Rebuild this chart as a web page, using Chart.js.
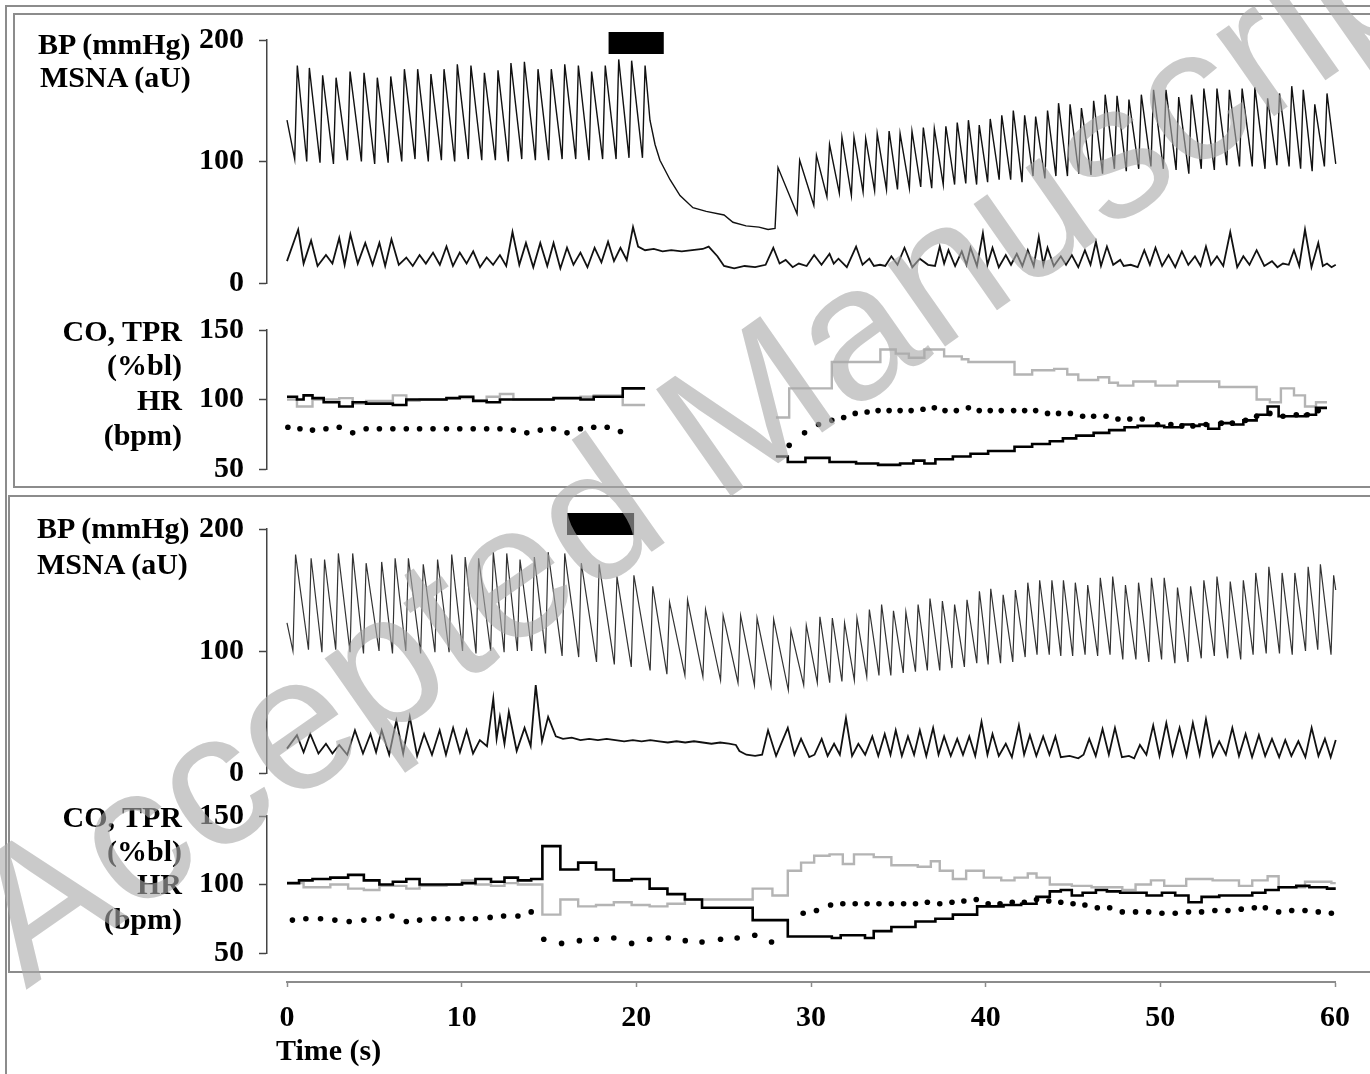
<!DOCTYPE html>
<html>
<head>
<meta charset="utf-8">
<script src="https://cdn.jsdelivr.net/npm/chart.js@4.4.1/dist/chart.umd.min.js"></script>
<style>
  html, body { margin: 0; padding: 0; background: #fff; }
  body { width: 1370px; height: 1074px; position: relative; overflow: hidden; font-family: "Liberation Serif", "Times New Roman", serif; }
  .frame { position: absolute; border: 2px solid #8c8c8c; box-sizing: border-box; }
  .plot { position: absolute; left: 0; width: 1370px; }
  .lbl { position: absolute; font-weight: bold; font-size: 30px; line-height: 30px; white-space: nowrap; color: #000; }
  .r { left: 0; width: 182px; text-align: right; }
  #wm { position: absolute; left: 26px; top: 829px; font-family: "Liberation Sans", Arial, sans-serif; font-size: 190px; line-height: 190px;
        color: rgba(170,170,170,0.62); white-space: nowrap; transform-origin: 0 161px; transform: rotate(-35deg); pointer-events: none; }
</style>
</head>
<body>

<div class="frame" style="left:5px;top:5px;width:1420px;height:1120px;"></div>
<div class="frame" style="left:13px;top:13px;width:1420px;height:475px;"></div>
<div class="frame" style="left:8px;top:495px;width:1420px;height:478px;"></div>

<div class="plot" style="top:4px;height:315px;"><canvas id="bpTop"></canvas></div>
<div class="plot" style="top:294px;height:211px;"><canvas id="hemoTop"></canvas></div>
<div class="plot" style="top:493px;height:316px;"><canvas id="bpBot"></canvas></div>
<div class="plot" style="top:780px;height:209px;"><canvas id="hemoBot"></canvas></div>
<div class="plot" style="top:960px;height:114px;"><canvas id="timeAxis"></canvas></div>

<div class="lbl" style="left:38px;top:29px;">BP (mmHg)</div>
<div class="lbl" style="left:40px;top:62px;">MSNA (aU)</div>
<div class="lbl r" style="top:316px;">CO, TPR</div>
<div class="lbl r" style="top:350px;">(%bl)</div>
<div class="lbl r" style="top:385px;">HR</div>
<div class="lbl r" style="top:420px;">(bpm)</div>

<div class="lbl" style="left:37px;top:513px;">BP (mmHg)</div>
<div class="lbl" style="left:37px;top:549px;">MSNA (aU)</div>
<div class="lbl r" style="top:802px;">CO, TPR</div>
<div class="lbl r" style="top:836px;">(%bl)</div>
<div class="lbl r" style="top:869px;">HR</div>
<div class="lbl r" style="top:904px;">(bpm)</div>

<div class="lbl" style="left:276px;top:1035px;">Time (s)</div>

<div id="wm">Accepted Manuscript</div>

<script>
// ---------- data (time in s) ----------

// top panel, arterial pressure: beat peak times, systolic and the diastolic trough before each beat
const bpTopBeatT1 = [0.59, 1.28, 2.04, 2.81, 3.61, 4.41, 5.17, 5.94, 6.72, 7.48, 8.24, 8.99, 9.75, 10.53, 11.30, 12.08, 12.82, 13.59, 14.37, 15.13, 15.90, 16.68, 17.44, 18.22, 18.99, 19.73, 20.50];
const bpTopSys1 = [179, 177, 171, 169, 174, 173, 169, 170, 176, 176, 172, 176, 180, 179, 173, 175, 181, 182, 176, 176, 180, 179, 174, 179, 184, 183, 179];
const bpTopDia1 = [102, 100, 99, 98, 101, 100, 98, 99, 100, 102, 100, 101, 100, 102, 101, 101, 100, 102, 101, 101, 102, 102, 101, 102, 102, 103, 103];
// pressure fall after the stimulus
const bpTopFallT = [20.78, 21.07, 21.35, 21.93, 22.50, 23.24, 24.0, 25.02, 25.53, 26.28, 27.02, 27.54, 27.94];
const bpTopFallV = [134, 114, 101, 85, 72, 62, 59, 56, 50, 47, 46, 44, 45];
const bpTopBeatT2 = [28.11, 29.35, 30.31, 31.06, 31.77, 32.46, 33.13, 33.79, 34.47, 35.10, 35.78, 36.43, 37.06, 37.72, 38.37, 39.01, 39.63, 40.26, 40.92, 41.58, 42.23, 42.86, 43.54, 44.17, 44.83, 45.48, 46.18, 46.84, 47.52, 48.20, 48.91, 49.61, 50.32, 51.05, 51.78, 52.49, 53.24, 53.95, 54.68, 55.41, 56.14, 56.82, 57.52, 58.18, 58.84, 59.54];
const bpTopSys2 = [95, 101, 105, 114, 120, 120, 119, 123, 125, 123, 125, 128, 127, 129, 132, 134, 130, 135, 138, 142, 138, 137, 142, 148, 147, 144, 150, 155, 154, 151, 155, 159, 159, 153, 155, 160, 160, 159, 160, 161, 152, 156, 162, 159, 147, 156];
const bpTopDia2 = [45, 57, 64, 71, 74, 72, 75, 76, 77, 77, 78, 79, 78, 81, 81, 82, 81, 83, 85, 85, 83, 88, 86, 88, 88, 90, 89, 90, 94, 92, 94, 96, 94, 93, 90, 94, 93, 97, 96, 96, 94, 97, 96, 94, 92, 96];
const bpTopEndT = [0, 60.04];
const bpTopEndV = [134, 98];

// top panel, nerve activity: burst peaks and the baseline between them
const msnaTopBurstT = [0.64, 1.38, 2.23, 2.99, 3.63, 4.48, 5.29, 5.98, 6.83, 7.59, 8.36, 9.13, 9.89, 10.66, 11.43, 12.19, 12.91, 13.68, 14.50, 15.26, 16.03, 16.80, 17.61, 18.38, 19.09, 19.81,
  27.84, 28.55, 29.30, 30.18, 31.06, 31.57, 32.58, 33.34, 34.60, 35.35, 36.23, 37.37, 37.87, 38.63, 39.13, 39.84, 40.39, 41.15, 41.78, 42.41, 43.04, 43.54, 44.30, 44.93, 45.68, 46.31, 46.94, 47.70, 49.08, 49.72, 50.47, 51.23, 51.98, 52.61, 53.24, 54.00, 54.75, 55.51, 56.39, 57.02, 57.65, 58.28, 59.04, 59.54];
const msnaTopBurstV = [44, 35, 23, 37, 40, 33, 33, 36, 21, 23, 25, 30, 25, 26, 21, 23, 42, 33, 33, 33, 29, 25, 29, 34, 29, 46,
  29, 19, 16, 23, 24, 20, 30, 20, 22, 29, 20, 30, 27, 26, 29, 41, 29, 23, 24, 27, 38, 29, 22, 23, 27, 34, 30, 19, 27, 29, 23, 26, 22, 30, 22, 42, 22, 27, 18, 16, 27, 44, 33, 16];
const msnaTopBaseT = [0.0, 0.95, 1.75, 2.6, 3.3, 4.05, 4.9, 5.62, 6.4, 7.2, 7.95, 8.75, 9.5, 10.28, 11.05, 11.8, 12.55, 13.3, 14.1, 14.9, 15.65, 16.4, 17.2, 18.0, 18.72, 19.45,
  20.1, 20.5, 21.0, 21.5, 22.0, 22.6, 23.2, 23.8, 24.14, 24.64, 25.02, 25.6, 26.2, 26.8, 27.4,
  28.2, 28.95, 29.75, 30.6, 31.3, 32.05, 32.95, 33.6, 33.95, 34.25, 34.95, 35.8, 36.7, 37.1, 37.62, 38.25, 38.9, 39.5, 40.1, 40.75, 41.45, 42.1, 42.75, 43.3, 43.9, 44.6, 45.3, 46.0, 46.6, 47.3, 47.9, 48.3, 48.7, 49.4, 50.1, 50.85, 51.6, 52.3, 52.9, 53.6, 54.4, 55.1, 55.95, 56.7, 57.35, 57.95, 58.65, 59.3, 59.8, 60.04];
const msnaTopBaseV = [18, 16, 14, 16, 15, 16, 15, 14, 15, 14, 16, 15, 14, 16, 13, 15, 14, 15, 13, 14, 12, 15, 13, 17, 18, 19,
  30, 27, 28, 26, 27, 26, 27, 28, 30, 22, 14, 12, 14, 13, 15,
  16, 13, 14, 15, 16, 13, 15, 14, 15, 14, 15, 13, 15, 14, 16, 14, 15, 14, 15, 13, 15, 14, 14, 15, 14, 15, 13, 15, 14, 15, 14, 15, 13, 15, 14, 13, 15, 14, 15, 14, 13, 15, 14, 13, 15, 14, 13, 14, 13, 15];

// top panel, stimulus bar
const stimTopT = [18.41, 21.57];
const stimTopV = [197.5, 197.5];

// top panel, CO (grey) and TPR (black) as % of baseline, HR (dots) in bpm
const coTopT1 = [0, 0.57, 1.46, 2.99, 3.76, 4.53, 6.06, 6.83, 7.59, 9.13, 10.66, 11.43, 12.19, 12.96, 13.73, 15.26, 16.80, 17.56, 19.22, 20.5];
const coTopV1 = [100, 95, 100, 101, 97, 99, 103, 99, 100, 101, 99, 102, 104, 100, 100, 101, 102, 103, 96, 96];
const coTopT2 = [27.99, 28.75, 31.19, 33.97, 34.85, 35.60, 36.49, 37.62, 38.63, 39.01, 41.65, 42.66, 43.92, 44.67, 45.30, 46.44, 47.07, 47.57, 48.45, 49.72, 50.98, 53.37, 55.51, 56.27, 56.90, 57.65, 58.28, 58.91, 59.54];
const coTopV2 = [87, 108, 127, 136, 133, 130, 136, 131, 129, 127, 118, 121, 122, 118, 114, 116, 112, 110, 113, 110, 113, 109, 100, 98, 108, 103, 95, 98, 98];
const tprTopT1 = [0, 0.57, 0.95, 1.46, 2.10, 2.99, 3.76, 4.53, 6.06, 6.83, 7.59, 9.13, 9.89, 10.66, 11.43, 12.19, 13.73, 15.26, 16.03, 16.80, 17.56, 18.33, 19.22, 20.5];
const tprTopV1 = [102, 100, 103, 101, 98, 95, 98, 97, 96, 100, 100, 101, 102, 99, 98, 100, 100, 101, 101, 100, 102, 102, 108, 108];
const tprTopT2 = [27.99, 28.67, 29.68, 31.06, 32.58, 33.84, 35.10, 35.86, 36.49, 37.12, 38.12, 39.13, 40.14, 41.15, 41.65, 42.66, 43.67, 44.42, 45.18, 46.18, 47.07, 47.95, 48.70, 49.46, 50.22, 51.23, 51.86, 52.24, 52.74, 53.37, 54.12, 54.75, 55.51, 56.14, 56.77, 57.65, 58.28, 58.91, 59.54];
const tprTopV2 = [59, 55, 58, 55, 54, 53, 54, 56, 54, 57, 59, 61, 63, 63, 66, 68, 70, 72, 74, 76, 78, 80, 81, 81, 80, 82, 81, 82, 79, 83, 82, 85, 89, 95, 88, 88, 89, 94, 94];
const hrTopT = [0.05, 0.74, 1.46, 2.23, 2.99, 3.76, 4.53, 5.29, 6.06, 6.83, 7.59, 8.36, 9.13, 9.89, 10.66, 11.43, 12.19, 12.96, 13.73, 14.50, 15.26, 16.03, 16.80, 17.56, 18.33, 19.09,
  28.75, 29.63, 30.43, 31.19, 31.87, 32.53, 33.21, 33.84, 34.47, 35.10, 35.73, 36.41, 37.06, 37.67, 38.32, 39.01, 39.63, 40.26, 40.89, 41.60, 42.23, 42.86, 43.54, 44.17, 44.85, 45.55, 46.18, 46.89, 47.57, 48.25, 48.96, 49.84, 50.60, 51.23, 51.86, 52.61, 53.49, 54.12, 54.88, 55.51, 56.27, 57.02, 57.78, 58.41, 59.04];
const hrTopV = [80, 79, 78, 79, 80, 76, 79, 79, 79, 79, 79, 79, 79, 79, 79, 79, 79, 78, 76, 78, 79, 76, 79, 80, 80, 77,
  67, 76, 82, 85, 87, 90, 91, 92, 92, 92, 92, 93, 94, 92, 92, 94, 92, 92, 92, 92, 92, 92, 90, 90, 90, 88, 88, 88, 86, 86, 86, 82, 82, 81, 81, 82, 83, 83, 85, 88, 90, 88, 89, 89, 92];

// bottom panel, arterial pressure
const bpBotBeatT = [0.49, 1.38, 2.15, 2.94, 3.76, 4.53, 5.42, 6.19, 6.95, 7.80, 8.62, 9.43, 10.20, 10.97, 11.81, 12.58, 13.34, 14.16, 14.95, 15.90, 16.85, 17.87, 18.89, 19.86, 20.94, 21.90, 22.93,
  23.96, 24.97, 25.97, 26.91, 27.86, 28.85, 29.73, 30.51, 31.22, 31.92, 32.63, 33.34, 34.04, 34.72, 35.43, 36.13, 36.81, 37.52, 38.22, 38.93, 39.64, 40.29, 41.00, 41.70, 42.41, 43.09, 43.79, 44.45, 45.13, 45.84, 46.56, 47.27, 48.00, 48.75, 49.49, 50.22, 50.98, 51.73, 52.49, 53.24, 54.00, 54.75, 55.46, 56.21, 56.97, 57.70, 58.46, 59.16, 59.92];
const bpBotSys = [179, 176, 175, 180, 180, 172, 173, 176, 176, 171, 175, 179, 177, 176, 181, 180, 175, 177, 181, 180, 172, 171, 161, 162, 153, 140, 142,
  134, 129, 129, 127, 126, 117, 121, 128, 127, 123, 127, 134, 138, 133, 132, 138, 143, 141, 138, 142, 149, 151, 146, 150, 156, 158, 158, 158, 156, 154, 160, 161, 154, 156, 160, 160, 152, 153, 158, 161, 157, 158, 164, 169, 164, 164, 169, 171, 162];
const bpBotDia = [100, 101, 99, 101, 99, 98, 100, 98, 100, 98, 99, 99, 100, 98, 100, 99, 100, 100, 98, 96, 95, 91, 89, 87, 84, 81, 80,
  79, 76, 74, 72, 71, 68, 72, 74, 74, 75, 76, 79, 80, 80, 82, 83, 84, 84, 86, 87, 90, 89, 90, 91, 95, 97, 97, 96, 96, 97, 96, 97, 93, 93, 91, 93, 90, 91, 94, 96, 94, 93, 97, 98, 98, 97, 100, 101, 97];
const bpBotEndT = [0, 60.04];
const bpBotEndV = [123, 150];

// bottom panel, nerve activity
const msnaBotBurstT = [0.57, 1.33, 2.23, 2.99, 3.89, 4.78, 5.42, 6.26, 7.03, 7.85, 8.74, 9.51, 10.28, 11.04, 11.81, 12.19, 12.70, 13.60, 14.24, 14.95,
  27.54, 28.67, 29.43, 30.61, 31.32, 32.00, 32.71, 33.51, 34.22, 34.85, 35.55, 36.23, 36.99, 37.62, 38.37, 39.06, 39.76, 40.39, 41.15, 41.90, 42.53, 43.29, 43.99, 45.93, 46.69, 47.40, 48.83, 49.59, 50.34, 51.10, 51.86, 52.61, 53.37, 54.12, 54.88, 55.64, 56.39, 57.15, 57.90, 58.66, 59.42, 60.04];
const msnaBotBurstV = [31, 32, 24, 23, 35, 32, 35, 43, 46, 32, 35, 37, 35, 27, 61, 46, 50, 37, 72, 46,
  35, 37, 28, 28, 24, 45, 24, 30, 32, 35, 30, 35, 37, 30, 28, 30, 42, 32, 24, 39, 31, 30, 30, 28, 36, 37, 23, 39, 41, 37, 41, 44, 26, 37, 32, 31, 28, 27, 26, 37, 28, 27];
const msnaBotBaseT = [0.0, 0.95, 1.8, 2.6, 3.45, 4.35, 5.1, 5.85, 6.65, 7.45, 8.3, 9.1, 9.9, 10.65, 11.45, 12.0, 12.45, 13.15, 13.95, 14.6,
  15.39, 15.8, 16.3, 16.8, 17.3, 17.8, 18.3, 18.8, 19.3, 19.8, 20.3, 20.8, 21.3, 21.8, 22.3, 22.8, 23.3, 23.8, 24.3, 24.8, 25.3, 25.7, 25.9, 26.3, 26.8, 27.2,
  28.0, 29.05, 29.9, 30.2, 30.95, 31.65, 32.35, 33.1, 33.85, 34.55, 35.2, 35.9, 36.6, 37.3, 38.0, 38.7, 39.4, 40.1, 40.75, 41.5, 42.2, 42.9, 43.65, 44.3, 44.8, 45.3, 45.6, 46.3, 47.05, 47.8, 48.2, 48.5, 49.2, 49.95, 50.7, 51.5, 52.25, 53.0, 53.75, 54.5, 55.25, 56.0, 56.8, 57.5, 58.3, 59.05, 59.75];
const msnaBotBaseV = [20, 17, 16, 16, 15, 16, 17, 15, 16, 14, 15, 15, 17, 16, 22, 28, 24, 18, 22, 26,
  30, 28, 29, 27, 28, 27, 28, 27, 26, 27, 26, 27, 26, 25, 26, 25, 26, 25, 24, 25, 24, 23, 18, 15, 14, 15,
  14, 15, 13, 15, 14, 15, 14, 15, 14, 15, 14, 15, 14, 15, 14, 15, 14, 15, 14, 13, 15, 14, 15, 13, 14, 12, 15, 14, 15, 13, 14, 12, 15, 14, 15, 14, 15, 14, 15, 14, 13, 14, 13, 14, 13, 14, 13];

const stimBotT = [16.03, 19.87];
const stimBotV = [204, 204];

// bottom panel, CO / TPR / HR
const coBotT = [0, 0.95, 2.48, 3.50, 4.40, 5.29, 6.83, 7.59, 9.13, 10.02, 10.79, 11.68, 12.45, 13.22, 13.98, 14.62, 15.65, 16.67, 17.69, 18.71, 19.73, 20.76, 21.78, 22.78, 26.66, 27.79, 28.67, 29.43, 30.18, 31.06,
  31.82, 32.46, 33.59, 34.60, 36.11, 36.86, 37.37, 38.12, 38.88, 39.89, 40.89, 41.65, 42.41, 42.91, 43.67, 44.93, 46.06, 47.82, 48.58, 49.46, 50.22, 51.48, 52.99, 54.50, 55.26, 56.14, 56.77, 58.28, 59.79, 60.04];
const coBotV = [101, 98, 100, 97, 96, 99, 97, 99, 100, 103, 100, 99, 101, 100, 100, 78, 89, 84, 85, 87, 85, 84, 86, 89, 97, 92, 110, 116, 121, 122,
  115, 122, 120, 114, 113, 117, 110, 104, 110, 105, 103, 105, 108, 105, 100, 99, 98, 96, 100, 103, 99, 104, 103, 99, 103, 106, 98, 102, 101, 101];
const tprBotT = [0, 0.69, 1.46, 2.48, 3.50, 4.40, 5.29, 6.06, 6.83, 7.59, 8.49, 10.02, 10.79, 11.68, 12.45, 13.22, 13.98, 14.62, 15.65, 16.67, 17.69, 18.71, 19.73, 20.76, 21.78, 22.78, 23.76, 26.66, 28.67, 31.19,
  31.70, 33.09, 33.59, 34.60, 35.98, 37.12, 38.12, 39.51, 41.02, 42.03, 42.91, 43.67, 44.30, 44.93, 45.55, 46.31, 46.94, 47.70, 49.21, 50.09, 50.85, 51.61, 52.36, 53.37, 55.26, 56.01, 56.77, 57.78, 58.53, 59.54, 60.04];
const tprBotV = [101, 103, 104, 105, 107, 103, 100, 102, 104, 100, 100, 101, 104, 102, 105, 103, 104, 128, 111, 116, 111, 103, 104, 97, 93, 89, 83, 74, 62, 61,
  63, 61, 66, 69, 73, 75, 78, 84, 85, 86, 91, 95, 96, 92, 94, 96, 95, 94, 92, 94, 92, 87, 91, 92, 94, 96, 98, 99, 98, 97, 97];
const hrBotT = [0.31, 1.08, 1.92, 2.74, 3.56, 4.40, 5.24, 6.01, 6.83, 7.59, 8.41, 9.21, 10.02, 10.79, 11.63, 12.40, 13.22, 13.98,
  14.70, 15.72, 16.74, 17.71, 18.71, 19.73, 20.76, 21.83, 22.80, 23.76, 24.82, 25.77, 26.78, 27.74,
  29.55, 30.31, 31.12, 31.82, 32.53, 33.21, 33.89, 34.60, 35.30, 35.98, 36.66, 37.37, 38.07, 38.75, 39.46, 40.14, 40.82, 41.52, 42.21, 42.91, 43.61, 44.30, 45.00, 45.68, 46.39, 47.10, 47.82, 48.58, 49.33, 50.09, 50.85, 51.61, 52.36, 53.12, 53.87, 54.63, 55.38, 56.01, 56.77, 57.52, 58.28, 59.04, 59.79];
const hrBotV = [74, 75, 75, 74, 73, 74, 75, 77, 73, 74, 75, 75, 75, 75, 76, 77, 77, 80,
  60, 57, 59, 60, 61, 57, 60, 61, 59, 58, 60, 61, 63, 58,
  79, 81, 85, 86, 86, 86, 86, 86, 86, 86, 87, 86, 87, 88, 89, 86, 86, 87, 87, 89, 88, 87, 86, 85, 83, 83, 80, 80, 80, 79, 79, 80, 80, 81, 81, 82, 83, 83, 80, 81, 81, 80, 79];

const timeTicks = [0, 10, 20, 30, 40, 50, 60];

// ---------- helpers ----------
const UPSTROKE = 0.15;      // s between diastolic trough and systolic peak
const X_MIN = -1.145, X_MAX = 60.57;   // plot area runs from the y axis line to just past 60 s
const SERIF = "'Liberation Serif', 'Times New Roman', serif";
const PAD = 36;             // room above/below each plot for the end tick labels

function pairs(t, v) {
  return t.map(function (x, i) { return { x: x, y: v[i] }; });
}

function beats(t, sys, dia) {
  const pts = [];
  for (let i = 0; i < t.length; i++) {
    pts.push({ x: t[i] - UPSTROKE, y: dia[i] });
    pts.push({ x: t[i], y: sys[i] });
  }
  return pts;
}

function byTime(pts) {
  return pts.sort(function (a, b) { return a.x - b.x; });
}

function gap(at) {
  return [{ x: at, y: null }];
}

function yAxis(min, max, step) {
  return {
    type: 'linear', min: min, max: max,
    afterFit: function (s) { s.width = 267; },
    ticks: { stepSize: step, padding: 15, color: '#000', font: { family: SERIF, size: 30, weight: 'bold' } },
    grid: { drawOnChartArea: false, drawTicks: true, tickLength: 8, tickColor: '#444', tickWidth: 1.5 },
    border: { display: true, color: '#444', width: 1.5 }
  };
}

function options(yMin, yMax, step) {
  return {
    responsive: true, maintainAspectRatio: false, animation: false, events: [],
    layout: { padding: { left: 0, right: 25, top: PAD, bottom: PAD } },
    plugins: { legend: { display: false }, tooltip: { enabled: false } },
    scales: {
      x: { type: 'linear', min: X_MIN, max: X_MAX, display: false },
      y: yAxis(yMin, yMax, step)
    }
  };
}

function trace(data, color, width) {
  return { data: data, borderColor: color, borderWidth: width, pointRadius: 0, tension: 0, fill: false };
}

function stimBar(t, v, height) {
  return { data: pairs(t, v), borderColor: '#000', borderWidth: height, borderCapStyle: 'butt', pointRadius: 0, clip: false };
}

function steps(data, color, width) {
  return { data: data, borderColor: color, borderWidth: width, stepped: true, pointRadius: 0, spanGaps: false, fill: false };
}

function dots(data) {
  return { data: data, showLine: false, pointRadius: 2.8, pointBackgroundColor: '#000', pointBorderWidth: 0 };
}

// ---------- top panel ----------
new Chart(document.getElementById('bpTop'), {
  type: 'line',
  data: {
    datasets: [
      stimBar(stimTopT, stimTopV, 22),
      trace(byTime([].concat(pairs(bpTopEndT, bpTopEndV), beats(bpTopBeatT1, bpTopSys1, bpTopDia1), pairs(bpTopFallT, bpTopFallV), beats(bpTopBeatT2, bpTopSys2, bpTopDia2))), '#111', 1.4),
      trace(byTime([].concat(pairs(msnaTopBurstT, msnaTopBurstV), pairs(msnaTopBaseT, msnaTopBaseV))), '#111', 1.8)
    ]
  },
  options: options(0, 200, 100)
});

new Chart(document.getElementById('hemoTop'), {
  type: 'line',
  data: {
    datasets: [
      dots(pairs(hrTopT, hrTopV)),
      steps([].concat(pairs(tprTopT1, tprTopV1), gap(24), pairs(tprTopT2, tprTopV2)), '#000', 2.6),
      steps([].concat(pairs(coTopT1, coTopV1), gap(24), pairs(coTopT2, coTopV2)), '#b4b4b4', 2.4)
    ]
  },
  options: options(50, 150, 50)
});

// ---------- bottom panel ----------
new Chart(document.getElementById('bpBot'), {
  type: 'line',
  data: {
    datasets: [
      stimBar(stimBotT, stimBotV, 22),
      trace(byTime([].concat(pairs(bpBotEndT, bpBotEndV), beats(bpBotBeatT, bpBotSys, bpBotDia))), '#333', 1.2),
      trace(byTime([].concat(pairs(msnaBotBurstT, msnaBotBurstV), pairs(msnaBotBaseT, msnaBotBaseV))), '#111', 1.8)
    ]
  },
  options: options(0, 200, 100)
});

new Chart(document.getElementById('hemoBot'), {
  type: 'line',
  data: {
    datasets: [
      dots(pairs(hrBotT, hrBotV)),
      steps(pairs(tprBotT, tprBotV), '#000', 2.6),
      steps(pairs(coBotT, coBotV), '#b4b4b4', 2.4)
    ]
  },
  options: options(50, 150, 50)
});

// ---------- shared time axis ----------
new Chart(document.getElementById('timeAxis'), {
  type: 'scatter',
  data: { datasets: [] },
  options: {
    responsive: true, maintainAspectRatio: false, animation: false, events: [],
    layout: { padding: { left: 287, right: 35, top: 2, bottom: 0 } },
    plugins: { legend: { display: false }, tooltip: { enabled: false } },
    scales: {
      x: {
        type: 'linear', min: timeTicks[0], max: timeTicks[timeTicks.length - 1], position: 'bottom',
        afterFit: function (s) { s.height = 92; },
        afterBuildTicks: function (s) { s.ticks = timeTicks.map(function (v) { return { value: v }; }); },
        ticks: { padding: 13, color: '#000', font: { family: SERIF, size: 30, weight: 'bold' } },
        grid: { drawOnChartArea: false, drawTicks: true, tickLength: 5, tickColor: '#8c8c8c', tickWidth: 1.5 },
        border: { display: true, color: '#8c8c8c', width: 2 }
      },
      y: { display: false, min: 0, max: 1 }
    }
  }
});
</script>
</body>
</html>
